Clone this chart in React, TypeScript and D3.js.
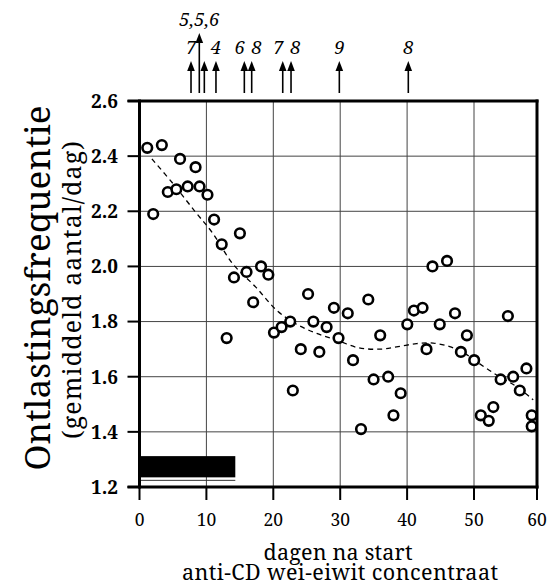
import React from "react";
import * as d3 from "d3";

// ---- data ----
const days = [1.16, 2.05, 3.34, 4.23, 5.51, 6.06, 7.2, 8.38, 8.98, 10.16, 11.15, 12.29, 13.03, 14.12, 15.01, 16.0, 16.99, 18.17, 19.26, 20.1, 21.24, 22.53, 22.92, 24.11, 25.2, 25.99, 26.88, 27.97, 29.06, 29.75, 31.13, 31.92, 33.11, 34.2, 34.99, 35.98, 37.17, 37.96, 39.04, 40.03, 41.02, 42.31, 42.9, 43.79, 44.88, 45.97, 47.16, 48.04, 48.94, 50.03, 51.08, 52.34, 53.07, 54.23, 55.38, 56.22, 57.27, 58.32, 59.16, 59.16];
const freq = [2.43, 2.19, 2.44, 2.27, 2.28, 2.39, 2.29, 2.36, 2.29, 2.26, 2.17, 2.08, 1.74, 1.96, 2.12, 1.98, 1.87, 2.0, 1.97, 1.76, 1.78, 1.8, 1.55, 1.7, 1.9, 1.8, 1.69, 1.78, 1.85, 1.74, 1.83, 1.66, 1.41, 1.88, 1.59, 1.75, 1.6, 1.46, 1.54, 1.79, 1.84, 1.85, 1.7, 2.0, 1.79, 2.02, 1.83, 1.69, 1.75, 1.66, 1.46, 1.44, 1.49, 1.59, 1.82, 1.6, 1.55, 1.63, 1.46, 1.42];

const trendDays = [1.85, 5.02, 8.28, 10.96, 13.92, 17.38, 20.55, 23.51, 26.49, 29.45, 32.72, 35.98, 38.65, 41.42, 43.89, 46.37, 48.45, 50.44, 53.6, 56.75, 59.4];
const trendVals = [2.39, 2.3, 2.2, 2.12, 2.01, 1.925, 1.84, 1.79, 1.757, 1.733, 1.705, 1.7, 1.709, 1.72, 1.722, 1.709, 1.687, 1.654, 1.606, 1.564, 1.516];

const arrowDays = [7.7, 8.94, 9.69, 11.43, 15.67, 16.77, 21.41, 22.65, 29.87, 40.18];
const arrowLabels = ["7", "5,5,6", "", "4", "6", "8", "7", "8", "9", "8"];
const arrowTall = [false, true, false, false, false, false, false, false, false, false];

const barDays = [0, 14.32];
const barLevels = [1.235, 1.312];

const xTicks = [0, 10, 20, 30, 40, 50, 60];
const yTicks = [1.2, 1.4, 1.6, 1.8, 2.0, 2.2, 2.4, 2.6];

const yTitle = "Ontlastingsfrequentie";
const yTitle2 = "(gemiddeld aantal/dag)";
const xTitle = "dagen na start";
const xTitle2 = "anti-CD wei-eiwit concentraat";

const FAMILY = "Noto Serif";

let ctx: CanvasRenderingContext2D | null = null;
function fitSize(text: string, target: number, weight = "normal", style = "normal") {
  if (!ctx) ctx = document.createElement("canvas").getContext("2d");
  if (!ctx) return 20;
  ctx.font = `${style} ${weight} 100px "${FAMILY}"`;
  const w = ctx.measureText(text).width || 100;
  return (100 * target) / w;
}

export default function App() {
  const W = 551, H = 585;
  const left = 139.5, right = 537, top = 101, bottom = 487;
  // the printed axis is slightly compressed in its last decade
  const x = d3.scaleLinear().domain([0, 50, 60]).range([left, 474, right]);
  const y = d3.scaleLinear().domain([1.2, 2.6]).range([bottom, top]);
  const fs = (size: number, extra: any = {}) => ({ fontFamily: FAMILY, fontSize: size.toFixed(2) + "px", ...extra });

  const sYTitle = Math.min(35, fitSize(yTitle, 365));
  const sXTitle = Math.min(21.5, fitSize(xTitle, 149));
  const sXTitle2 = Math.min(21.5, fitSize(xTitle2, 316));
  const sXTick = fitSize("10", 19.5);
  const sYTick = fitSize("2.6", 27, "bold");
  const sArrow = fitSize("5,5,6", 40, "normal", "italic");

  const trendLine = d3
    .line<number>()
    .x((_, i) => x(trendDays[i]))
    .y((d) => y(d))
    .curve(d3.curveCatmullRom.alpha(0.5));

  const labelX = arrowDays.map((d) => x(d));
  for (let i = 0; i < arrowDays.length - 1; i++) {
    if (!arrowLabels[i] || !arrowLabels[i + 1] || arrowTall[i] || arrowTall[i + 1]) continue;
    const a = x(arrowDays[i]), b = x(arrowDays[i + 1]);
    if (b - a < 16) {
      const m = (a + b) / 2;
      labelX[i] = m - 8.5;
      labelX[i + 1] = m + 8.5;
    }
  }

  const shaftBottom = 93;
  const shortTip = 61;
  const tallTip = 33;

  return (
    <svg width={W} height={H} style={{ position: "absolute", left: 0, top: 0, background: "#fff" }}>
      <rect width={W} height={H} fill="#fff" />
      {xTicks.filter((t) => t > 0 && t < 60).map((t) => (
        <line key={"gx" + t} x1={x(t)} x2={x(t)} y1={top} y2={bottom} stroke="#444" strokeWidth={1} />
      ))}
      {yTicks.filter((t) => t > 1.21 && t < 2.59).map((t) => (
        <line key={"gy" + t} x1={left} x2={right} y1={y(t)} y2={y(t)} stroke="#444" strokeWidth={1} />
      ))}
      <rect x={x(barDays[0])} y={y(barLevels[1])} width={x(barDays[1]) - x(barDays[0])} height={y(barLevels[0]) - y(barLevels[1])} fill="#000" />
      <line x1={x(barDays[0])} x2={x(barDays[1])} y1={y(barLevels[0]) + 3} y2={y(barLevels[0]) + 3} stroke="#333" strokeWidth={1} />
      <path d={trendLine(trendVals) || ""} fill="none" stroke="#000" strokeWidth={1.3} strokeDasharray="5,4" />
      {days.map((d, i) => (
        <circle key={"p" + i} cx={x(d)} cy={y(freq[i])} r={4.8} fill="#fff" stroke="#000" strokeWidth={2.6} />
      ))}
      <line x1={left} x2={left} y1={top - 1.5} y2={bottom + 1.5} stroke="#000" strokeWidth={3} />
      <line x1={right} x2={right} y1={top - 1.5} y2={bottom + 1.5} stroke="#000" strokeWidth={3} />
      <line x1={left - 12} x2={right + 1.5} y1={top} y2={top} stroke="#000" strokeWidth={3} />
      <line x1={left - 12} x2={right + 1.5} y1={bottom} y2={bottom} stroke="#000" strokeWidth={3} />
      {yTicks.map((t) => (
        <g key={"yt" + t}>
          <line x1={left - 12} x2={left} y1={y(t)} y2={y(t)} stroke="#000" strokeWidth={2} />
          <text x={118} y={y(t)} dy="0.36em" textAnchor="end" style={fs(sYTick, { fontWeight: "bold" })} fill="#000">
            {t.toFixed(1)}
          </text>
        </g>
      ))}
      {xTicks.map((t) => (
        <g key={"xt" + t}>
          <line x1={x(t)} x2={x(t)} y1={bottom} y2={bottom + 13} stroke="#000" strokeWidth={2} />
          <text x={x(t)} y={526} textAnchor="middle" style={fs(sXTick)} fill="#000">
            {t}
          </text>
        </g>
      ))}
      {arrowDays.map((d, i) => {
        const ax = x(d);
        const tip = arrowTall[i] ? tallTip : shortTip;
        return (
          <g key={"ar" + i}>
            <line x1={ax} x2={ax} y1={shaftBottom} y2={tip + 8} stroke="#000" strokeWidth={1.6} />
            <path d={`M${ax},${tip} L${ax - 3.8},${tip + 10} L${ax + 3.8},${tip + 10} Z`} fill="#000" />
            {arrowLabels[i] && (
              <text x={labelX[i]} y={tip - 7} textAnchor="middle" style={fs(sArrow, { fontStyle: "italic" })} fill="#000">
                {arrowLabels[i]}
              </text>
            )}
          </g>
        );
      })}
      <text transform={`translate(50,288) rotate(-90)`} textAnchor="middle" textLength={365} lengthAdjust="spacing" style={fs(sYTitle)} fill="#000">
        {yTitle}
      </text>
      <text transform={`translate(81,290) rotate(-90)`} textAnchor="middle" textLength={298} lengthAdjust="spacing" style={fs(25)} fill="#000">
        {yTitle2}
      </text>
      <text x={338} y={560} textAnchor="middle" textLength={149} lengthAdjust="spacing" style={fs(sXTitle)} fill="#000">
        {xTitle}
      </text>
      <text x={340} y={580} textAnchor="middle" textLength={316} lengthAdjust="spacing" style={fs(sXTitle2)} fill="#000">
        {xTitle2}
      </text>
    </svg>
  );
}
